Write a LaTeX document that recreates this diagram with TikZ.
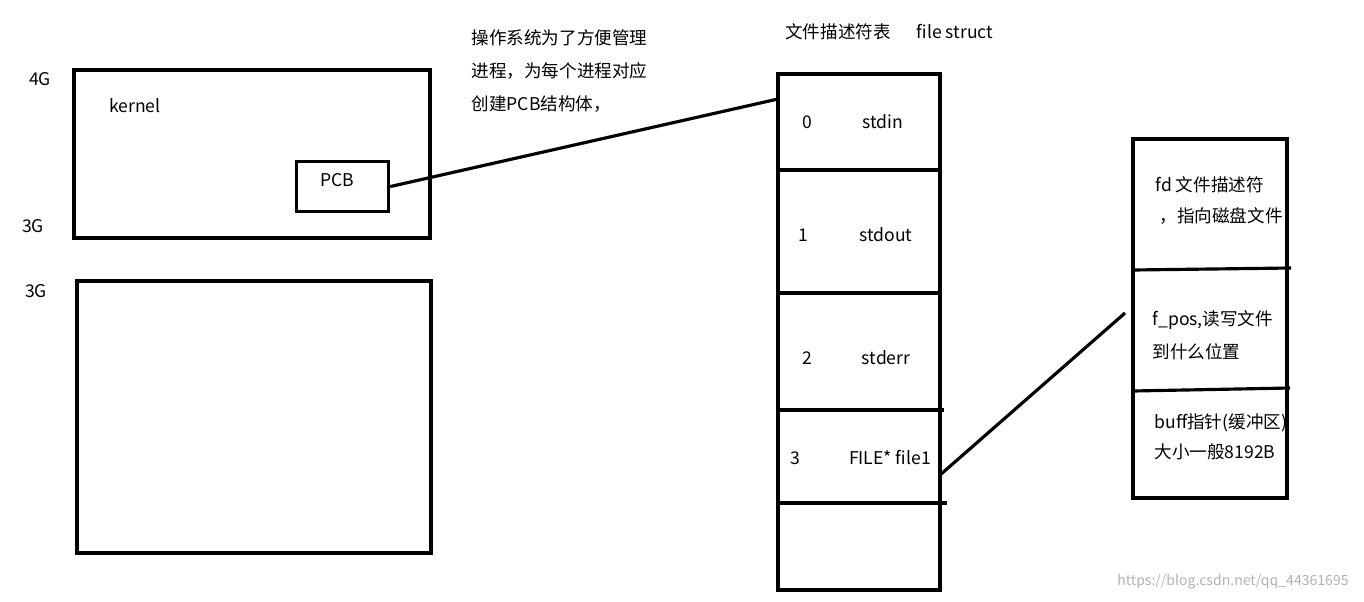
\documentclass[tikz,border=0pt]{standalone}
\usepackage{fontspec}
\setmainfont{Noto Sans CJK SC}
\usetikzlibrary{positioning}

\begin{document}
\begin{tikzpicture}[x=0.02cm, y=-0.02cm, line width=1.8pt,
      txt/.style={font=\fontsize{10}{12}\selectfont, inner sep=0pt},
      ltxt/.style={txt, anchor=west},
      box/.style={draw, line width=1.8pt}]
  \useasboundingbox (0,0) rectangle (1364,601);

  % Memory
  \draw[box] (74,70) rectangle (430,238);
  \draw[box] (77,281) rectangle (431,553);
  \node[box, minimum width=92*0.02cm, minimum height=50*0.02cm, anchor=north west, inner sep=0pt] (pcb) at (295,160) {};
  \node[txt] at (337,180) {PCB};
  \node[txt] (kernel) at (135,106) {kernel};
  \node[txt] at (40,79) {4G};
  \node[txt] at (33,226) {3G};
  \node[txt] at (36,291) {3G};

  % Note
  \node[ltxt] at (470,38) {操作系统为了方便管理};
  \node[ltxt] at (470,71) {进程，为每个进程对应};
  \node[ltxt] at (470,104) {创建PCB结构体，};

  % File descriptor table
  \node[txt] at (838,32) {文件描述符表};
  \node[txt] at (955,32) {file struct};
  \draw[box] (778,74) rectangle (940,590);
  \draw (778,170) -- (940,170);
  \draw (778,293) -- (940,293);
  \draw (778,410) -- (944,410);
  \draw (778,503) -- (947,503);
  \coordinate (tab) at (778,99);
  \coordinate (f1) at (940,475);
  \node[txt] at (807,122) {0};  \node[txt] at (883,122) {stdin};
  \node[txt] at (803,235) {1};  \node[txt] at (886,235) {stdout};
  \node[txt] at (807,358) {2};  \node[txt] at (886,358) {stderr};
  \node[txt] at (795,458) {3};  \node[txt] at (890,458) {FILE* file1};

  % file struct
  \draw[box] (1133,139) rectangle (1287,498);
  \draw (1133,270) -- (1291,268);
  \draw (1133,391) -- (1290,388);
  \coordinate (fs) at (1125,313);
  \node[ltxt] at (1154,185) {fd 文件描述符};
  \node[ltxt] at (1158,216) {，指向磁盘文件};
  \node[ltxt] at (1151,320) {f\_pos,读写文件};
  \node[ltxt] at (1151,352) {到什么位置};
  \node[ltxt] at (1153,423) {buff指针(缓冲区)};
  \node[ltxt] at (1153,452) {大小一般8192B};

  % Links
  \draw (pcb.east) -- (tab);
  \draw (f1) -- (fs);

  \node[txt, gray!60, font=\fontsize{8}{10}\selectfont] at (1233,582) {https://blog.csdn.net/qq\_44361695};
\end{tikzpicture}
\end{document}
